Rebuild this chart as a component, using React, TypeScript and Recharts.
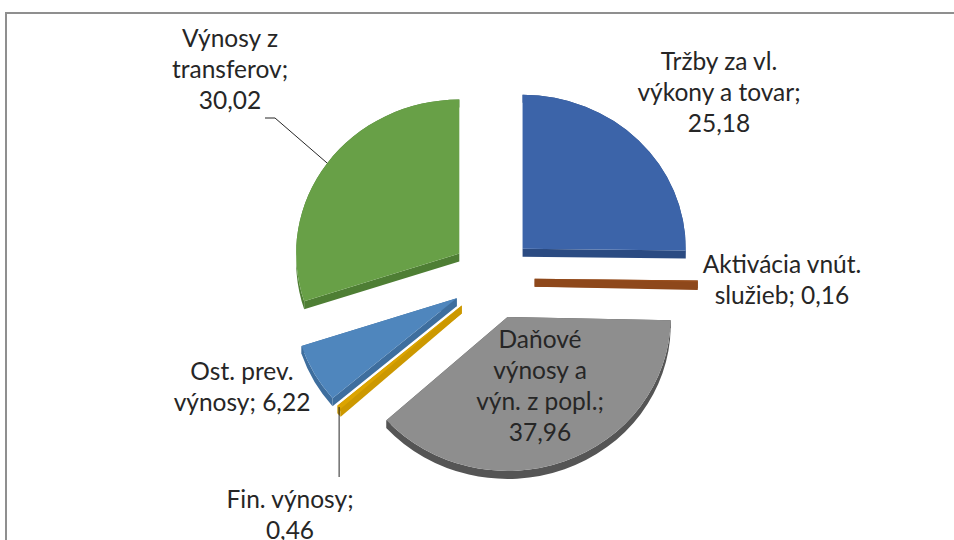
import { PieChart, Pie, Cell } from "recharts"

const categories = [
  "Tržby za vl.\nvýkony a tovar",
  "Aktivácia vnút.\nslužieb",
  "Daňové\nvýnosy a\nvýn. z popl.",
  "Fin. výnosy",
  "Ost. prev.\nvýnosy",
  "Výnosy z\ntransferov",
]
const values = [25.18, 0.16, 37.96, 0.46, 6.22, 30.02]
const topColors = ["#3c64a9", "#9a4f1e", "#8e8e8e", "#dca400", "#4f86bd", "#68a047"]
const sideColors = ["#2b4b82", "#8e481b", "#555555", "#cc9800", "#3e6e9e", "#4e7e34"]

// label placement relative to pie centre: [dx, dy of first baseline, value on own line]
const labelLayout: [number, number, boolean][] = [
  [226, -208, true],
  [289, -5, false],
  [47, 70, true],
  [-203, 230, true],
  [-251, 102, false],
  [-263, -231, true],
]

const data = categories.map((name, i) => ({ name, value: values[i] }))

const RX = 1.02
const RY = 0.9625
const DEPTH = 8
const EXPLODE = 0.26
const LINE_H = 31

const rad = (a: number) => (a * Math.PI) / 180

function pt(cx: number, cy: number, rx: number, ry: number, a: number) {
  return [cx + rx * Math.cos(rad(a)), cy - ry * Math.sin(rad(a))]
}

function exploded(cx: number, cy: number, r: number, mid: number) {
  const off = r * EXPLODE
  return [cx + off * Math.cos(rad(mid)), cy - off * Math.sin(rad(mid))]
}

function Slice3D(props: any) {
  const { cx, cy, outerRadius, startAngle, endAngle, midAngle } = props
  const idx = categories.indexOf(props.name ?? props.payload?.name)
  const [ox, oy] = exploded(cx, cy, outerRadius, midAngle)
  const rx = outerRadius * RX
  const ry = outerRadius * RY
  const [x1, y1] = pt(ox, oy, rx, ry, startAngle)
  const [x2, y2] = pt(ox, oy, rx, ry, endAngle)
  const large = Math.abs(startAngle - endAngle) > 180 ? 1 : 0
  const top = `M${ox},${oy}L${x1},${y1}A${rx},${ry} 0 ${large} 1 ${x2},${y2}Z`
  const rim = `M${x1},${y1}A${rx},${ry} 0 ${large} 1 ${x2},${y2}L${x2},${y2 + DEPTH}A${rx},${ry} 0 ${large} 0 ${x1},${y1 + DEPTH}Z`
  const cut1 = `M${ox},${oy}L${x1},${y1}L${x1},${y1 + DEPTH}L${ox},${oy + DEPTH}Z`
  const cut2 = `M${ox},${oy}L${x2},${y2}L${x2},${y2 + DEPTH}L${ox},${oy + DEPTH}Z`
  const side = sideColors[idx]
  return (
    <g>
      <path d={cut1} fill={side} />
      <path d={cut2} fill={side} />
      <path d={rim} fill={side} />
      <path d={top} fill={topColors[idx]} />
    </g>
  )
}

function SliceLabel(props: any) {
  const { cx, cy, outerRadius, midAngle, index } = props
  const [dx, dy, ownLine] = labelLayout[index]
  const val = values[index].toFixed(2).replace(".", ",")
  const lines = (categories[index] + ";" + (ownLine ? "\n" : " ") + val).split("\n")
  const [ox, oy] = exploded(cx, cy, outerRadius, midAngle)
  const [ax, ay] = pt(ox, oy, outerRadius * RX, outerRadius * RY, midAngle)
  let leader = null
  if (index === 5) {
    leader = <polyline points={`${ax},${ay} ${cx - 218},${cy - 160} ${cx - 228},${cy - 160}`} fill="none" stroke="#262626" strokeWidth={1} />
  } else if (index === 3) {
    leader = <line x1={ax} y1={ay} x2={ax} y2={cy + 199} stroke="#262626" strokeWidth={1} />
  }
  return (
    <g>
      {leader}
      <text x={cx + dx} y={cy + dy} textAnchor="middle" fill="#262626" fontSize={24.5} fontFamily="Lato, sans-serif">
        {lines.map((l, i) => (
          <tspan key={i} x={cx + dx} dy={i === 0 ? 0 : LINE_H}>
            {l}
          </tspan>
        ))}
      </text>
    </g>
  )
}

export default function App() {
  return (
    <div style={{ position: "absolute", left: 0, top: 0, width: 954, height: 540, background: "#fff", overflow: "hidden" }}>
      <div
        style={{
          position: "absolute",
          left: 5,
          top: 12,
          width: 1000,
          height: 600,
          borderTop: "2px solid #8f8f8f",
          borderLeft: "2px solid #8f8f8f",
        }}
      />
      <PieChart width={954} height={540} style={{ position: "absolute", left: 0, top: 0 }}>
        <Pie
          data={data}
          dataKey="value"
          nameKey="name"
          cx={488}
          cy={273}
          outerRadius={160}
          startAngle={90}
          endAngle={-270}
          stroke="none"
          shape={Slice3D}
          label={SliceLabel}
          labelLine={false}
          isAnimationActive={false}
        >
          {data.map((d, i) => (
            <Cell key={d.name} fill={topColors[i]} />
          ))}
        </Pie>
      </PieChart>
    </div>
  )
}
